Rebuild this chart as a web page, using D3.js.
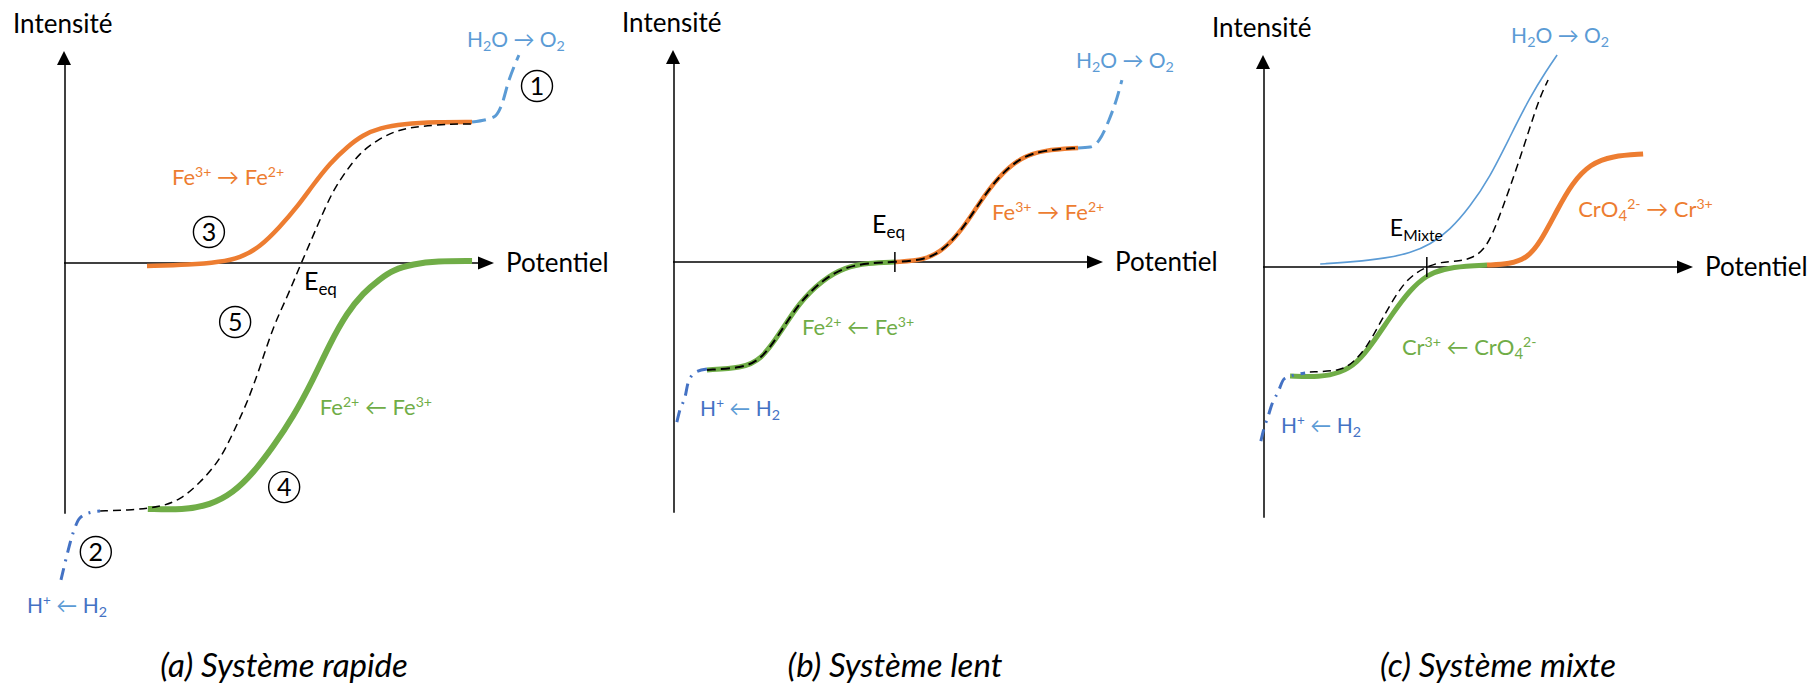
<!DOCTYPE html>
<html>
<head>
<meta charset="utf-8">
<script src="https://cdn.jsdelivr.net/npm/d3@7"></script>
<style>
body{margin:0;background:#fff;}
svg text{font-family:Lato,"DejaVu Sans",sans-serif;}
</style>
</head>
<body>
<script>
// curves as [potentiel, intensité] pairs, axis units: potentiel 0..100, intensité -118..100

// (a) système rapide
const rapideOrange = [[19.3,-1.4],[29.3,-0.9],[36.3,0.5],[40.9,2.4],[45.6,7.5],[50.2,17],[54.2,26.4],[57.9,36.8],[61.9,47.2],[65.8,54.7],[69.5,60.4],[73.5,63.7],[78.8,65.6],[86.7,66.5],[94.9,66.5]];
const rapideGreen = [[19.5,-116],[27.7,-116.5],[34,-114.2],[39.3,-108.5],[44,-99.1],[48.6,-86.8],[53.3,-72.6],[57.9,-55.2],[61.9,-37.7],[65.8,-23.6],[69.5,-14.2],[73.5,-7.5],[76.5,-3.3],[81.2,-0.5],[86.7,0.9],[94.9,0.9]];
const rapideSum = [[8.4,-117],[16,-116.5],[22.3,-115.1],[27,-111.8],[31.6,-103.8],[36.3,-92.9],[39.3,-80.2],[42.6,-66],[45.6,-49.1],[48.6,-30.2],[51.9,-16],[54.2,-4.7],[55.3,0.5],[57.2,9.4],[59.5,20.3],[62.6,34.4],[65.8,43.9],[68.8,51.9],[72.8,58],[77.4,62.7],[82.8,64.6],[90.5,65.6],[94.9,65.6]];
const rapideO2 = [[94.9,66.5],[100,68.9],[101.6,73.6],[103.5,86.3],[105.8,98.1]];
const rapideH2 = [[-0.7,-149.5],[0.7,-137.7],[2.1,-127.4],[3.7,-120.3],[6.5,-117.5],[8.4,-117]];

// (b) système lent
const lentGreen = [[7.9,-50.9],[16,-50],[20.5,-46.2],[24.9,-33.5],[29.3,-19.3],[34.7,-8.5],[40,-2.4],[45.3,-0.5],[51.6,0]];
const lentOrange = [[51.6,0],[58.6,0.9],[63,5.7],[67.7,16.5],[71.2,27.8],[75.6,40.1],[80.9,49.5],[86.3,52.8],[94.2,53.8]];
const lentO2 = [[94.2,53.8],[97,54.2],[99.1,57.5],[101.4,67],[103.3,77.8],[104.4,85.8]];
const lentH2 = [[0.9,-75.5],[1.6,-69.8],[2.8,-63.7],[3.5,-57.1],[5.3,-51.9],[7.9,-50.5]];
const lentEeq = 51.6;

// (c) système mixte
const mixteO2 = [[13.3,1.4],[20.9,2.4],[28.8,4.2],[34.2,6.6],[38.8,10.4],[43.5,17.5],[48.1,28.3],[52.8,42.5],[57.4,61.3],[62.1,80.2],[66,92.9],[68.4,100]];
const mixteSum = [[10.9,-49.5],[17.9,-49.1],[20.9,-45.3],[24.2,-37.7],[27.2,-26.4],[30.2,-15.6],[33,-7.1],[35.8,-2.4],[38.1,0],[41.2,2.4],[45.8,2.8],[48.6,4.2],[51.4,8],[53.5,16],[55.8,28.3],[59.1,47.2],[62.1,66],[64.4,80.2],[66.3,88.2]];
const mixteGreen = [[6.3,-51.4],[13.3,-51.9],[17.9,-50],[21.9,-45.3],[25.6,-35.8],[30.2,-21.7],[34.2,-10.8],[38.1,-3.8],[41.9,-0.9],[47.4,0.5],[52.1,0.9]];
const mixteOrange = [[52.1,0.9],[57.4,1.4],[61.4,4.2],[64.4,11.3],[68.4,26.9],[71.9,39.6],[76.1,48.6],[81.2,52.4],[88.4,53.3]];
const mixteH2 = [[-0.5,-82.1],[0.2,-76.4],[1.2,-70.3],[2.1,-64.6],[3.5,-59],[4.9,-52.8],[9.8,-50]];
const mixteEmix = 38.1;

const ORANGE = '#ED7D31', GREEN = '#70AD47', LBLUE = '#5B9BD5', DBLUE = '#4472C4';

const W = 1809, H = 686;
const svg = d3.select('body').append('svg').attr('width', W).attr('height', H);

const x = d3.scaleLinear().domain([0, 100]).range([0, 430]);
const y = d3.scaleLinear().domain([0, 100]).range([0, -212]);
const smooth = d3.line().x(d => x(d[0])).y(d => y(d[1])).curve(d3.curveBasis);
const mono = d3.line().x(d => x(d[0])).y(d => y(d[1])).curve(d3.curveMonotoneX);

// text with ^{sup} and _{sub}
function rich(g, px, py, str, size, color, arrowColor) {
    const t = g.append('text').attr('x', px).attr('y', py).attr('font-size', size).attr('fill', color);
    const re = /\^\{([^}]*)\}|_\{([^}]*)\}|([^^_]+)/g;
    let m, cur = 0;
    const add = (txt, off, fs, col) => {
        const s = t.append('tspan').attr('dy', off - cur).attr('font-size', fs).text(txt);
        if (col) s.attr('fill', col);
        cur = off;
    };
    while ((m = re.exec(str)) !== null) {
        if (m[1] !== undefined) add(m[1], -0.36 * size, 0.64 * size);
        else if (m[2] !== undefined) add(m[2], 0.2 * size, 0.68 * size);
        else m[3].split(/([←→])/).forEach(p => {
            if (p) add(p, 0, size, /[←→]/.test(p) ? arrowColor : null);
        });
    }
    return t;
}

function circled(g, px, py, n) {
    g.append('circle').attr('cx', px).attr('cy', py).attr('r', 15.5)
        .attr('fill', 'none').attr('stroke', '#000').attr('stroke-width', 1.4);
    g.append('text').attr('x', px).attr('y', py + 9).attr('text-anchor', 'middle')
        .attr('font-size', 25).text(n);
}

const panels = [
    {ox: 64, oy: 263, caption: '(a) Système rapide', capX: 284,
     curves: [
        {d: rapideGreen, c: GREEN, w: 6},
        {d: rapideOrange, c: ORANGE, w: 4.5},
        {d: rapideSum, c: '#000', w: 1.5, dash: '8,5'},
        {d: rapideO2, c: LBLUE, w: 3, dash: '14,7', mono: true},
        {d: rapideH2, c: DBLUE, w: 3, dash: '12,7,2,7', mono: true}],
     labels: [
        {t: 'H_{2}O → O_{2}', p: [93.7, 101.9], c: LBLUE, s: 21},
        {t: 'Fe^{3+} → Fe^{2+}', p: [25.1, 36.8], c: ORANGE, s: 22},
        {t: 'Fe^{2+} ← Fe^{3+}', p: [59.5, -71.7], c: GREEN, s: 22},
        {t: 'H^{+} ← H_{2}', p: [-8.6, -165], c: DBLUE, s: 21, a: LBLUE},
        {t: 'E_{eq}', p: [55.8, -12.7], c: '#000', s: 25}],
     nums: [['1', 110, 83.5], ['3', 33.7, 14.6], ['5', 39.8, -27.8], ['4', 51.2, -105.7], ['2', 7.4, -136.3]]},
    {ox: 673, oy: 262, caption: '(b) Système lent', capX: 895, tick: lentEeq,
     curves: [
        {d: lentGreen, c: GREEN, w: 5},
        {d: lentOrange, c: ORANGE, w: 4.5},
        {d: lentGreen.concat(lentOrange.slice(1)), c: '#000', w: 2, dash: '9,5'},
        {d: lentO2, c: LBLUE, w: 3, dash: '14,7', mono: true},
        {d: lentH2, c: DBLUE, w: 3, dash: '12,7,2,7', mono: true}],
     labels: [
        {t: 'H_{2}O → O_{2}', p: [93.7, 91.5], c: LBLUE, s: 21},
        {t: 'Fe^{3+} → Fe^{2+}', p: [74.2, 19.8], c: ORANGE, s: 22},
        {t: 'Fe^{2+} ← Fe^{3+}', p: [30, -34.4], c: GREEN, s: 22},
        {t: 'H^{+} ← H_{2}', p: [6.3, -72.6], c: DBLUE, s: 21, a: LBLUE},
        {t: 'E_{eq}', p: [46.3, 13.7], c: '#000', s: 25}],
     nums: []},
    {ox: 1263, oy: 267, caption: '(c) Système mixte', capX: 1498, tick: mixteEmix,
     curves: [
        {d: mixteO2, c: LBLUE, w: 1.6},
        {d: mixteGreen, c: GREEN, w: 5},
        {d: mixteOrange, c: ORANGE, w: 5},
        {d: mixteSum, c: '#000', w: 1.5, dash: '8,5'},
        {d: mixteH2, c: DBLUE, w: 3, dash: '12,7,2,7', mono: true}],
     labels: [
        {t: 'H_{2}O → O_{2}', p: [57.7, 105.7], c: LBLUE, s: 21},
        {t: 'CrO_{4}^{2-} → Cr^{3+}', p: [73.3, 23.6], c: ORANGE, s: 22},
        {t: 'Cr^{3+} ← CrO_{4}^{2-}', p: [32.3, -41.5], c: GREEN, s: 22},
        {t: 'H^{+} ← H_{2}', p: [4.2, -78.3], c: DBLUE, s: 21, a: LBLUE},
        {t: 'E_{Mixte}', p: [29.5, 14.6], c: '#000', s: 23}],
     nums: []}
];

panels.forEach(P => {
    const g = svg.append('g').attr('transform', `translate(${P.ox},${P.oy})`);

    // axes: lines from d3 axes without ticks, then arrow heads
    const xa = d3.scaleLinear().domain([0, 100]).range([0, x(100) - 15]);
    const ya = d3.scaleLinear().domain([-118, 100]).range([y(-118), y(100) + 12]);
    g.append('g').call(d3.axisBottom(xa).tickValues([]).tickSizeOuter(0))
        .select('.domain').attr('stroke-width', 1.5).attr('transform', 'translate(-0.5,-0.5)');
    g.append('g').call(d3.axisLeft(ya).tickValues([]).tickSizeOuter(0))
        .select('.domain').attr('stroke-width', 1.5).attr('transform', 'translate(0.5,0)');
    g.append('path').attr('d', `M${x(100)},0L${x(100) - 16},-6.5L${x(100) - 16},6.5Z`).attr('fill', '#000');
    g.append('path').attr('d', `M0,${y(100)}L-7,${y(100) + 14}L7,${y(100) + 14}Z`).attr('fill', '#000');

    g.append('text').attr('x', -51).attr('y', y(100) - 18).attr('font-size', 26).text('Intensité');
    g.append('text').attr('x', x(100) + 12).attr('y', 9).attr('font-size', 26).text('Potentiel');

    P.curves.forEach(c => {
        g.append('path').attr('d', (c.mono ? mono : smooth)(c.d)).attr('fill', 'none')
            .attr('stroke', c.c).attr('stroke-width', c.w)
            .attr('stroke-dasharray', c.dash || null);
    });

    if (P.tick !== undefined) {
        g.append('line').attr('x1', x(P.tick)).attr('x2', x(P.tick))
            .attr('y1', -10).attr('y2', 10).attr('stroke', '#000').attr('stroke-width', 1.5);
    }

    P.labels.forEach(l => rich(g, x(l.p[0]), y(l.p[1]), l.t, l.s, l.c, l.a));
    P.nums.forEach(n => circled(g, x(n[1]), y(n[2]), n[0]));

    svg.append('text').attr('x', P.capX).attr('y', 677).attr('text-anchor', 'middle')
        .attr('font-size', 33).attr('font-style', 'italic').text(P.caption);
});
</script>
</body>
</html>
